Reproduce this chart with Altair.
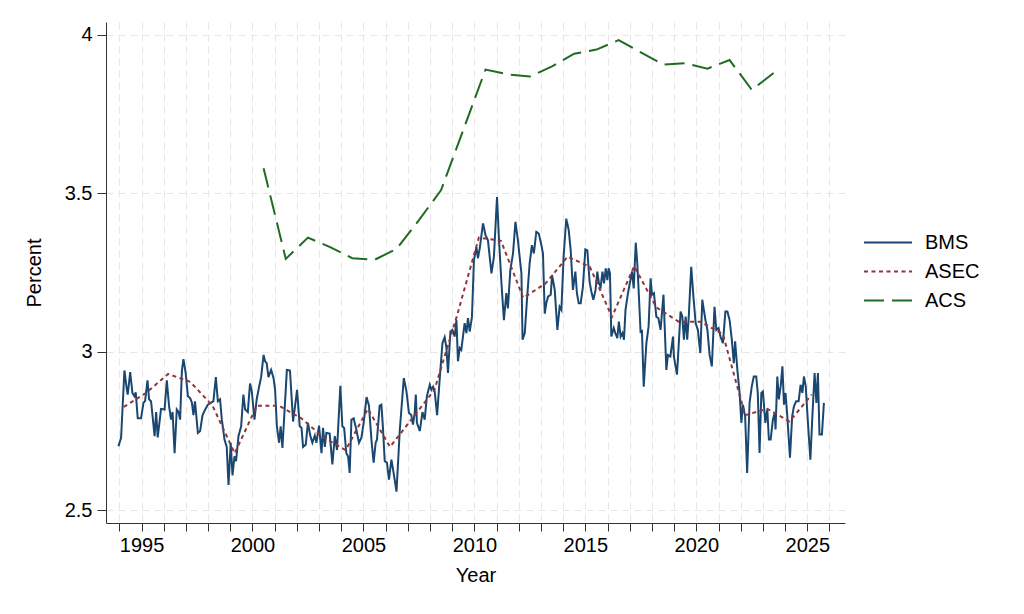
import altair as alt
import pandas as pd

# ---------------- data ----------------
bms_year = [
    1993.96, 1994.08, 1994.23, 1994.34, 1994.38, 1994.49, 1994.59, 1994.68, 1994.74, 1994.83,
    1994.98, 1995.09, 1995.16, 1995.27, 1995.34, 1995.43, 1995.59, 1995.66, 1995.73, 1995.88,
    1996.04, 1996.14, 1996.24, 1996.33, 1996.40, 1996.49, 1996.59, 1996.67, 1996.74, 1996.82,
    1996.89, 1996.99, 1997.09, 1997.19, 1997.27, 1997.34, 1997.41, 1997.54, 1997.64, 1997.75,
    1997.87, 1997.99, 1998.14, 1998.24, 1998.35, 1998.44, 1998.54, 1998.62, 1998.74, 1998.84,
    1998.92, 1999.02, 1999.10, 1999.19, 1999.26, 1999.37, 1999.49, 1999.59, 1999.67, 1999.79,
    1999.89, 1999.97, 2000.09, 2000.19, 2000.30, 2000.39, 2000.50, 2000.57, 2000.64, 2000.72,
    2000.84, 2000.95, 2001.02, 2001.10, 2001.20, 2001.27, 2001.35, 2001.44, 2001.55, 2001.69,
    2001.83, 2002.01, 2002.13, 2002.21, 2002.28, 2002.40, 2002.50, 2002.61, 2002.70, 2002.81,
    2002.88, 2003.00, 2003.11, 2003.18, 2003.26, 2003.33, 2003.48, 2003.60, 2003.71, 2003.81,
    2003.96, 2004.05, 2004.13, 2004.23, 2004.31, 2004.38, 2004.46, 2004.56, 2004.68, 2004.80,
    2004.91, 2005.01, 2005.14, 2005.25, 2005.36, 2005.46, 2005.55, 2005.61, 2005.73, 2005.81,
    2005.88, 2005.96, 2006.06, 2006.15, 2006.26, 2006.36, 2006.49, 2006.64, 2006.82, 2006.94,
    2007.05, 2007.16, 2007.23, 2007.31, 2007.36, 2007.41, 2007.54, 2007.66, 2007.76, 2007.86,
    2007.99, 2008.06, 2008.14, 2008.21, 2008.32, 2008.44, 2008.56, 2008.66, 2008.74, 2008.81,
    2008.92, 2009.01, 2009.11, 2009.19, 2009.26, 2009.34, 2009.41, 2009.56, 2009.64, 2009.71,
    2009.79, 2009.89, 2009.98, 2010.09, 2010.16, 2010.24, 2010.39, 2010.50, 2010.61, 2010.77,
    2010.88, 2011.02, 2011.11, 2011.22, 2011.33, 2011.44, 2011.51, 2011.62, 2011.74, 2011.85,
    2011.96, 2012.12, 2012.17, 2012.27, 2012.37, 2012.49, 2012.59, 2012.68, 2012.79, 2012.90,
    2013.02, 2013.09, 2013.17, 2013.24, 2013.32, 2013.44, 2013.50, 2013.62, 2013.74, 2013.84,
    2013.92, 2014.02, 2014.14, 2014.25, 2014.34, 2014.44, 2014.55, 2014.62, 2014.70, 2014.79,
    2014.89, 2015.00, 2015.09, 2015.19, 2015.27, 2015.36, 2015.46, 2015.54, 2015.61, 2015.69,
    2015.77, 2015.84, 2015.92, 2015.99, 2016.05, 2016.11, 2016.17, 2016.28, 2016.35, 2016.44,
    2016.51, 2016.59, 2016.67, 2016.74, 2016.81, 2016.92, 2017.03, 2017.10, 2017.18, 2017.27,
    2017.34, 2017.40, 2017.49, 2017.55, 2017.63, 2017.75, 2017.85, 2017.94, 2018.00, 2018.09,
    2018.20, 2018.29, 2018.39, 2018.52, 2018.65, 2018.72, 2018.83, 2018.95, 2018.99, 2019.13,
    2019.22, 2019.29, 2019.37, 2019.44, 2019.52, 2019.59, 2019.66, 2019.77, 2019.87, 2019.97,
    2020.07, 2020.18, 2020.27, 2020.41, 2020.50, 2020.60, 2020.70, 2020.82, 2020.90, 2021.00,
    2021.09, 2021.20, 2021.31, 2021.40, 2021.50, 2021.60, 2021.69, 2021.75, 2021.85, 2021.95,
    2022.03, 2022.10, 2022.20, 2022.29, 2022.40, 2022.50, 2022.59, 2022.70, 2022.77, 2022.85,
    2022.93, 2023.00, 2023.11, 2023.20, 2023.27, 2023.35, 2023.45, 2023.53, 2023.57, 2023.65,
    2023.72, 2023.80, 2023.88, 2023.95, 2024.02, 2024.10, 2024.22, 2024.32, 2024.40, 2024.50,
    2024.61, 2024.70, 2024.78, 2024.85, 2024.93, 2025.03, 2025.14, 2025.23, 2025.33, 2025.41,
    2025.48, 2025.55, 2025.66, 2025.75,
]
bms_value = [
    2.702, 2.729, 2.941, 2.880, 2.865, 2.936, 2.870, 2.860, 2.872, 2.790,
    2.790, 2.840, 2.844, 2.910, 2.850, 2.844, 2.734, 2.810, 2.730, 2.820,
    2.818, 2.910, 2.830, 2.786, 2.810, 2.680, 2.818, 2.810, 2.786, 2.940,
    2.977, 2.933, 2.860, 2.854, 2.840, 2.800, 2.844, 2.744, 2.750, 2.800,
    2.818, 2.833, 2.840, 2.844, 2.920, 2.844, 2.850, 2.786, 2.723, 2.700,
    2.580, 2.713, 2.610, 2.670, 2.655, 2.734, 2.765, 2.865, 2.818, 2.810,
    2.900, 2.875, 2.786, 2.850, 2.890, 2.920, 2.990, 2.970, 2.964, 2.920,
    2.943, 2.917, 2.880, 2.765, 2.713, 2.765, 2.697, 2.807, 2.943, 2.941,
    2.780, 2.880, 2.765, 2.760, 2.700, 2.707, 2.776, 2.734, 2.713, 2.736,
    2.713, 2.767, 2.680, 2.760, 2.700, 2.744, 2.742, 2.645, 2.734, 2.690,
    2.893, 2.765, 2.760, 2.680, 2.670, 2.618, 2.786, 2.790, 2.755, 2.713,
    2.729, 2.776, 2.857, 2.830, 2.723, 2.650, 2.713, 2.723, 2.830, 2.833,
    2.760, 2.655, 2.650, 2.597, 2.660, 2.618, 2.559, 2.755, 2.917, 2.875,
    2.807, 2.800, 2.770, 2.807, 2.865, 2.776, 2.750, 2.810, 2.786, 2.860,
    2.896, 2.880, 2.890, 2.875, 2.800, 2.917, 3.027, 3.046, 3.012, 2.933,
    3.064, 3.069, 3.048, 3.100, 2.970, 3.012, 3.006, 3.090, 3.059, 3.106,
    3.064, 3.110, 3.289, 3.330, 3.295, 3.326, 3.405, 3.368, 3.352, 3.247,
    3.300, 3.488, 3.352, 3.216, 3.100, 3.185, 3.137, 3.258, 3.310, 3.410,
    3.352, 3.247, 3.038, 3.059, 3.164, 3.279, 3.336, 3.310, 3.378, 3.373,
    3.336, 3.310, 3.120, 3.153, 3.174, 3.180, 3.242, 3.195, 3.069, 3.142,
    3.132, 3.300, 3.420, 3.384, 3.320, 3.195, 3.253, 3.185, 3.153, 3.153,
    3.205, 3.323, 3.320, 3.221, 3.190, 3.164, 3.195, 3.253, 3.216, 3.205,
    3.253, 3.216, 3.263, 3.226, 3.263, 3.247, 3.048, 3.075, 3.059, 3.043,
    3.095, 3.048, 3.059, 3.038, 3.132, 3.185, 3.226, 3.253, 3.200, 3.344,
    3.279, 3.195, 3.059, 3.069, 2.890, 3.027, 3.080, 3.232, 3.180, 3.185,
    3.110, 3.106, 3.069, 3.180, 2.943, 2.990, 2.985, 3.048, 2.985, 2.928,
    3.038, 3.127, 3.111, 3.038, 3.111, 3.038, 3.111, 3.268, 3.174, 3.090,
    3.069, 2.996, 3.164, 3.100, 3.069, 2.990, 2.954, 3.142, 3.069, 3.075,
    3.048, 3.027, 3.127, 3.127, 3.100, 3.038, 2.964, 3.033, 2.943, 2.870,
    2.776, 2.833, 2.797, 2.618, 2.839, 2.891, 2.922, 2.922, 2.870, 2.681,
    2.870, 2.875, 2.776, 2.818, 2.723, 2.723, 2.786, 2.807, 2.755, 2.922,
    2.850, 2.891, 2.954, 2.833, 2.870, 2.797, 2.666, 2.797, 2.828, 2.844,
    2.844, 2.896, 2.870, 2.922, 2.891, 2.776, 2.660, 2.797, 2.933, 2.839,
    2.933, 2.739, 2.739, 2.839,
]

asec_year = [
    1994.2, 1995.2, 1996.2, 1997.2, 1998.2, 1999.2, 2000.2, 2001.2, 2002.2, 2003.2,
    2004.2, 2005.2, 2006.2, 2007.2, 2008.2, 2009.2, 2010.2, 2011.2, 2012.2, 2013.2,
    2014.2, 2015.2, 2016.2, 2017.2, 2018.2, 2019.2, 2020.2, 2021.2, 2022.2, 2023.2,
    2024.2, 2025.2,
]
asec_value = [
    2.826, 2.870, 2.930, 2.905, 2.830, 2.680, 2.830, 2.830, 2.790, 2.730,
    2.690, 2.820, 2.700, 2.790, 2.880, 3.110, 3.360, 3.350, 3.170, 3.215,
    3.300, 3.268, 3.110, 3.270, 3.140, 3.095, 3.095, 3.055, 2.800, 2.820,
    2.780, 2.865,
]

acs_year = [
    2000.5, 2001.5, 2002.5, 2003.5, 2004.5, 2005.5, 2006.5, 2007.5, 2008.5, 2009.5,
    2010.5, 2011.5, 2012.5, 2013.5, 2014.5, 2015.5, 2016.5, 2017.5, 2018.5, 2019.5,
    2020.5, 2021.5, 2022.5, 2023.5,
]
acs_value = [
    3.579, 3.293, 3.360, 3.330, 3.295, 3.290, 3.325, 3.415, 3.510, 3.700,
    3.890, 3.875, 3.868, 3.900, 3.940, 3.953, 3.983, 3.944, 3.906, 3.910,
    3.893, 3.920, 3.826, 3.880,
]

series_names = ["BMS", "ASEC", "ACS"]
series_colors = ["#1a476f", "#90353b", "#1f6b22"]
series_dashes = [[1, 0], [4, 3.5], [20, 8]]

frames = []
for name, ys, vs in [("BMS", bms_year, bms_value),
                     ("ASEC", asec_year, asec_value),
                     ("ACS", acs_year, acs_value)]:
    frames.append(pd.DataFrame({"year": ys, "value": vs, "series": name}))
df = pd.concat(frames, ignore_index=True)

FONT = "Liberation Sans"

x_enc = alt.X(
    "year:Q",
    title="Year",
    scale=alt.Scale(domain=[1993.4, 2026.7], nice=False, zero=False),
    axis=alt.Axis(
        values=list(range(1994, 2027)),
        labelExpr="datum.value % 5 === 0 ? format(datum.value, 'd') : ''",
        grid=True,
        gridDash=[7, 5],
        gridColor="#e6e6e6",
        tickSize=8,
        labelPadding=4,
        titlePadding=10,
    ),
)
y_enc = alt.Y(
    "value:Q",
    title="Percent",
    scale=alt.Scale(domain=[2.46, 4.04], nice=False, zero=False),
    axis=alt.Axis(
        values=[2.5, 3, 3.5, 4],
        labelExpr="'' + datum.value",
        grid=True,
        gridDash=[7, 5],
        gridColor="#e6e6e6",
        tickSize=9,
        labelPadding=5,
        titlePadding=20,
    ),
)
color_enc = alt.Color(
    "series:N",
    scale=alt.Scale(domain=series_names, range=series_colors),
    legend=alt.Legend(
        title=None,
        orient="none",
        legendX=757,
        legendY=206,
        symbolType="stroke",
        symbolSize=2304,
        symbolStrokeWidth=2,
        labelFontSize=20,
        labelFont=FONT,
        labelColor="#000000",
        labelOffset=12,
        rowPadding=0,
        clipHeight=29,
    ),
)
dash_enc = alt.StrokeDash(
    "series:N",
    scale=alt.Scale(domain=series_names, range=series_dashes),
    legend=None,
)

layers = []
for name in series_names:
    layers.append(
        alt.Chart(df)
        .transform_filter(alt.datum.series == name)
        .mark_line(strokeWidth=2)
        .encode(x=x_enc, y=y_enc, color=color_enc, strokeDash=dash_enc)
    )

chart = (
    alt.layer(*layers)
    .properties(
        width=739,
        height=501,
        autosize=alt.AutoSizeParams(type="none"),
        padding={"left": 98, "top": 14, "right": 150, "bottom": 70},
    )
    .configure_view(stroke=None)
    .configure_axis(
        domainColor="#333333",
        tickColor="#333333",
        labelFont=FONT,
        titleFont=FONT,
        labelFontSize=20,
        titleFontSize=20,
        labelColor="#000000",
        titleColor="#000000",
        titleFontWeight="normal",
    )
)

chart.save("out.html", embed_options={"renderer": "svg", "actions": False})
